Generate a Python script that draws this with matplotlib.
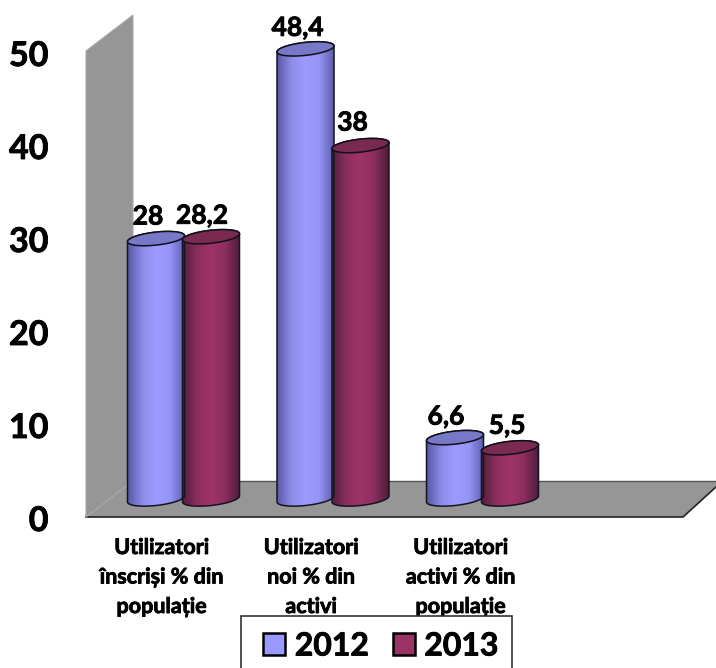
import numpy as np
import matplotlib
matplotlib.use("Agg")
import matplotlib.pyplot as plt
import matplotlib.patheffects as pe
from matplotlib.colors import LinearSegmentedColormap
from matplotlib.patches import Patch, Polygon, Rectangle
from matplotlib.transforms import ScaledTranslation

plt.rcParams["font.family"] = ["Lato", "DejaVu Sans"]
plt.rcParams["font.weight"] = "bold"

categories = ["Utilizatori\nînscriși % din\npopulație",
              "Utilizatori\nnoi % din\nactivi",
              "Utilizatori\nactivi % din\npopulație"]
values_2012 = [28, 48.4, 6.6]
values_2013 = [28.2, 38, 5.5]
labels_2012 = ["28", "48,4", "6,6"]
labels_2013 = ["28,2", "38", "5,5"]
y_ticks = [0, 10, 20, 30, 40, 50]

# label nudges in pixels (dx, dy), the original placement is not regular
nudge_2012 = [(-8, 22), (-8, 21), (-9, 21)]
nudge_2013 = [(-9, 21), (-8, 23), (-3, 22)]

W, H = 716, 668
GROUP_PX = 149.5
UNIT_PX = 9.3
ZERO_PY = 499
FIRST_GROUP_PX = 183.5

# Lato bold is lighter than the original face, thicken it a little
heavy = [pe.withStroke(linewidth=0.6, foreground="black")]

fig = plt.figure(figsize=(W / 100, H / 100), dpi=100, facecolor="white")

# grey wall and floor, in picture pixels
bg = fig.add_axes([0, 0, 1, 1])
bg.set_xlim(0, W)
bg.set_ylim(H, 0)
bg.axis("off")
bg.add_patch(Polygon([(86, 51), (133, 15), (133, 481), (86, 517)],
                     facecolor="#969696", edgecolor="#a8a8a8", lw=0.8))
bg.add_patch(Polygon([(86, 517), (133, 481), (716, 481), (716, 487), (683, 517)],
                     facecolor="#969696", edgecolor="none"))
bg.plot([133, 716], [481, 481], color="#555555", lw=1)
bg.plot([86, 683, 716], [517, 517, 487], color="#222222", lw=1.2)
bg.plot([86, 133], [517, 481], color="#a8a8a8", lw=0.8)

# main axes: data scale, transparent on top of the backdrop
left = 86
ax = fig.add_axes([left / W, 0, (W - left) / W, 1])
ax.patch.set_alpha(0)
x0 = (left - FIRST_GROUP_PX) / GROUP_PX
x1 = (W - FIRST_GROUP_PX) / GROUP_PX
y0 = (ZERO_PY - H) / UNIT_PX
y1 = ZERO_PY / UNIT_PX

blue = LinearSegmentedColormap.from_list("b", ["#5a5aa8", "#8c8ce8", "#9c9cff", "#9494f4", "#5e5eb0"])
maroon = LinearSegmentedColormap.from_list("m", ["#55203f", "#8c2e5e", "#a03468", "#8c2e5e", "#4e1c3a"])

bar_w = 57 / GROUP_PX
offset = 27.5 / GROUP_PX
cap_b = 6.5 / UNIT_PX
tilt = 3 / UNIT_PX
t = np.linspace(0, 2 * np.pi, 90)


def draw_cylinder(xc, val, cmap, top_color):
    a = bar_w / 2
    # lower half of the base ellipse, then up the other side
    tb = np.linspace(np.pi, 2 * np.pi, 40)
    bx = xc + a * np.cos(tb)
    by = cap_b * np.sin(tb) + tilt * np.cos(tb)
    tt = np.linspace(0, np.pi, 40)
    tx = xc + a * np.cos(tt)
    ty = val + cap_b * np.sin(tt) + tilt * np.cos(tt)
    body = Polygon(np.column_stack([np.r_[bx, tx], np.r_[by, ty]]),
                   facecolor="none", edgecolor="#151520", lw=1.1, zorder=3)
    ax.add_patch(body)
    grad = ax.imshow(np.linspace(0, 1, 64)[None, :], cmap=cmap, aspect="auto",
                     extent=(xc - a, xc + a, -1.5, val + 1.5), zorder=2)
    grad.set_clip_path(body)
    top = Polygon(np.column_stack([xc + a * np.cos(t),
                                   val + cap_b * np.sin(t) + tilt * np.cos(t)]),
                  facecolor=top_color, edgecolor="#101018", lw=1.1, zorder=4)
    ax.add_patch(top)


for i in range(len(categories)):
    draw_cylinder(i - offset, values_2012[i], blue, "#7878c8")
    draw_cylinder(i + offset, values_2013[i], maroon, "#7a2950")
    for xc, val, lab, (dx, dy) in [(i - offset, values_2012[i], labels_2012[i], nudge_2012[i]),
                                   (i + offset, values_2013[i], labels_2013[i], nudge_2013[i])]:
        ax.annotate(lab, (xc, val), xytext=(dx, dy), textcoords="offset pixels",
                    ha="center", va="center", fontsize=19, color="black", zorder=6,
                    path_effects=heavy)
    ax.annotate(categories[i], (i, 0), xytext=(-22, -78), textcoords="offset pixels",
                ha="center", va="center", fontsize=15.5, color="black",
                linespacing=1.5, annotation_clip=False, path_effects=heavy)

ax.set_xlim(x0, x1)
ax.set_ylim(y0, y1)
ax.set_xticks([])
ax.set_yticks(y_ticks)
ax.tick_params(axis="y", length=0, pad=27, labelsize=24.5)
shift = ScaledTranslation(0, -19 / 100, fig.dpi_scale_trans)
for lab in ax.get_yticklabels():
    lab.set_transform(lab.get_transform() + shift)
    lab.set_path_effects(heavy)
for s in ax.spines.values():
    s.set_visible(False)

# legend box runs off the bottom of the picture
fig.add_artist(Rectangle((241 / W, -0.02), 271 / W, 52 / H + 0.02, transform=fig.transFigure,
                         facecolor="white", edgecolor="#333333", lw=1.2, zorder=4))
handles = [Patch(facecolor="#9999ff", edgecolor="black", lw=1.8, label="2012"),
           Patch(facecolor="#993366", edgecolor="black", lw=1.8, label="2013")]
leg = fig.legend(handles=handles, loc="center", bbox_to_anchor=(381 / W, 1 - 646 / H),
                 ncol=2, frameon=False, fontsize=23, handlelength=0.68, handleheight=0.68,
                 handletextpad=0.3, columnspacing=0.75)
leg.set_zorder(5)
for txt in leg.get_texts():
    txt.set_path_effects(heavy)

fig.savefig("out.png", dpi=100)
